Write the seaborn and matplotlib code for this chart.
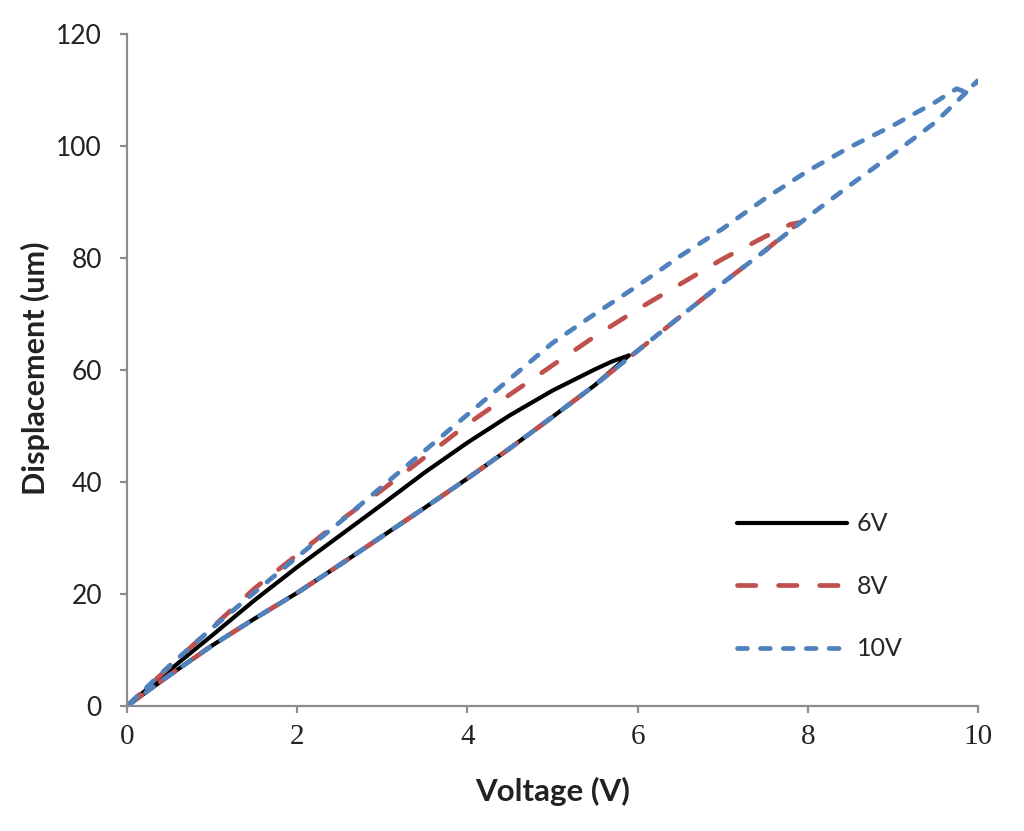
import matplotlib
matplotlib.use('Agg')
import matplotlib.pyplot as plt
import pandas as pd
import seaborn as sns

# loading branch (rising voltage) and unloading branch (falling voltage)
v6_up_x = [0, 0.5, 1, 1.5, 2, 2.5, 3, 3.5, 4, 4.5, 5, 5.5, 5.9]
v6_up_y = [0, 5.5, 10.8, 15.6, 20.2, 25.2, 30.3, 35.4, 40.6, 46.0, 51.6, 57.3, 62.6]
v6_down_x = [5.9, 5.7, 5.5, 5, 4.5, 4, 3.5, 3, 2.5, 2, 1.5, 1, 0.5, 0]
v6_down_y = [62.6, 61.5, 60.1, 56.3, 51.9, 47.0, 41.7, 36.0, 30.4, 24.8, 18.9, 12.6, 6.4, 0]

v8_up_x = [0, 0.5, 1, 1.5, 2, 2.5, 3, 3.5, 4, 4.5, 5, 5.5, 6, 6.5, 7, 7.5, 7.9]
v8_up_y = [0, 5.5, 10.8, 15.6, 20.2, 25.2, 30.3, 35.4, 40.6, 46.0, 51.6, 57.3, 63.4, 69.5, 75.5, 81.3, 86.3]
v8_down_x = [7.9, 7.8, 7.5, 7, 6.5, 6, 5.5, 5, 4.5, 4, 3.5, 3, 2.5, 2, 1.5, 1, 0.5, 0]
v8_down_y = [86.3, 86.0, 83.8, 79.8, 75.3, 70.8, 66.0, 60.8, 55.6, 50.3, 44.4, 38.6, 33.0, 27.0, 21.0, 14.0, 7.0, 0]

v10_up_x = [0, 0.5, 1, 1.5, 2, 2.5, 3, 3.5, 4, 4.5, 5, 5.5, 6, 6.5, 7, 7.5, 8, 8.5, 9, 9.5, 9.8, 10]
v10_up_y = [0, 5.5, 10.8, 15.6, 20.2, 25.2, 30.3, 35.4, 40.6, 46.0, 51.6, 57.3, 63.4, 69.5, 75.5, 81.3,
            87.3, 93.0, 98.5, 104.2, 108.6, 111.6]
v10_down_x = [10, 9.85, 9.75, 9.5, 9, 8.5, 8, 7.5, 7, 6.5, 6, 5.5, 5, 4.5, 4, 3.5, 3, 2.5, 2, 1.5, 1, 0.5, 0]
v10_down_y = [111.6, 109.6, 110.2, 107.8, 103.6, 99.8, 95.5, 90.6, 85.2, 80.3, 75.0, 70.0, 64.8, 58.4,
              52.0, 45.6, 39.2, 32.8, 26.6, 20.3, 13.9, 7.2, 0]

series_labels = ['6V', '8V', '10V']
series_colors = ['#000000', '#C0504D', '#4F81BD']
x_ticks = [0, 2, 4, 6, 8, 10]
y_ticks = [0, 20, 40, 60, 80, 100, 120]


def build_frame():
    loops = [
        (v6_up_x + v6_down_x, v6_up_y + v6_down_y),
        (v8_up_x + v8_down_x, v8_up_y + v8_down_y),
        (v10_up_x + v10_down_x, v10_up_y + v10_down_y),
    ]
    parts = []
    for label, (xs, ys) in zip(series_labels, loops):
        parts.append(pd.DataFrame({'voltage': xs, 'displacement': ys, 'amplitude': label}))
    return pd.concat(parts, ignore_index=True)


sns.set_style('ticks')
plt.rcParams['font.family'] = ['Lato', 'DejaVu Sans']

df = build_frame()
fig = plt.figure(figsize=(10.24, 8.31), dpi=100)
ax = fig.add_axes([0.124, 0.1504, 0.831, 0.809])

sns.lineplot(data=df, x='voltage', y='displacement', hue='amplitude', style='amplitude',
             hue_order=series_labels, style_order=series_labels,
             palette=dict(zip(series_labels, series_colors)),
             dashes={'6V': '', '8V': (3.9, 4.8), '10V': (2.1, 2.75)},
             sort=False, estimator=None, linewidth=3.4, dash_capstyle='round',
             solid_capstyle='round', solid_joinstyle='round', legend=False, ax=ax)
lines = ax.get_lines()[:3]
lines[0].set_linewidth(3.0)

ax.set_xlim(0, 10)
ax.set_ylim(0, 120)
ax.set_xticks(x_ticks)
ax.set_yticks(y_ticks)
sns.despine(ax=ax)
for side in ['left', 'bottom']:
    ax.spines[side].set_color('#8c8c8c')
    ax.spines[side].set_linewidth(1.6)
ax.tick_params(axis='both', colors='#8c8c8c', length=5, width=1.6, direction='out')
ax.tick_params(axis='x', pad=8, labelcolor='#222222')
ax.tick_params(axis='y', pad=13, labelcolor='#222222')
for lbl in ax.get_xticklabels():
    lbl.set_family('Liberation Serif')
    lbl.set_fontsize(21)
for lbl in ax.get_yticklabels():
    lbl.set_fontsize(19)

ax.set_xlabel('Voltage (V)', fontsize=22.5, fontweight='bold', color='#222222')
ax.set_ylabel('Displacement (um)', fontsize=22, fontweight='bold', color='#222222')
ax.xaxis.set_label_coords(0.5, -0.105)
ax.yaxis.set_label_coords(-0.09, 0.503)

ax.legend(lines, series_labels, loc='upper left', bbox_to_anchor=(0.717, 0.288),
          frameon=False, fontsize=18, handlelength=4.4, handletextpad=0.4,
          labelspacing=1.58, borderpad=0, borderaxespad=0)

fig.savefig('out.png', dpi=100, facecolor='white')
